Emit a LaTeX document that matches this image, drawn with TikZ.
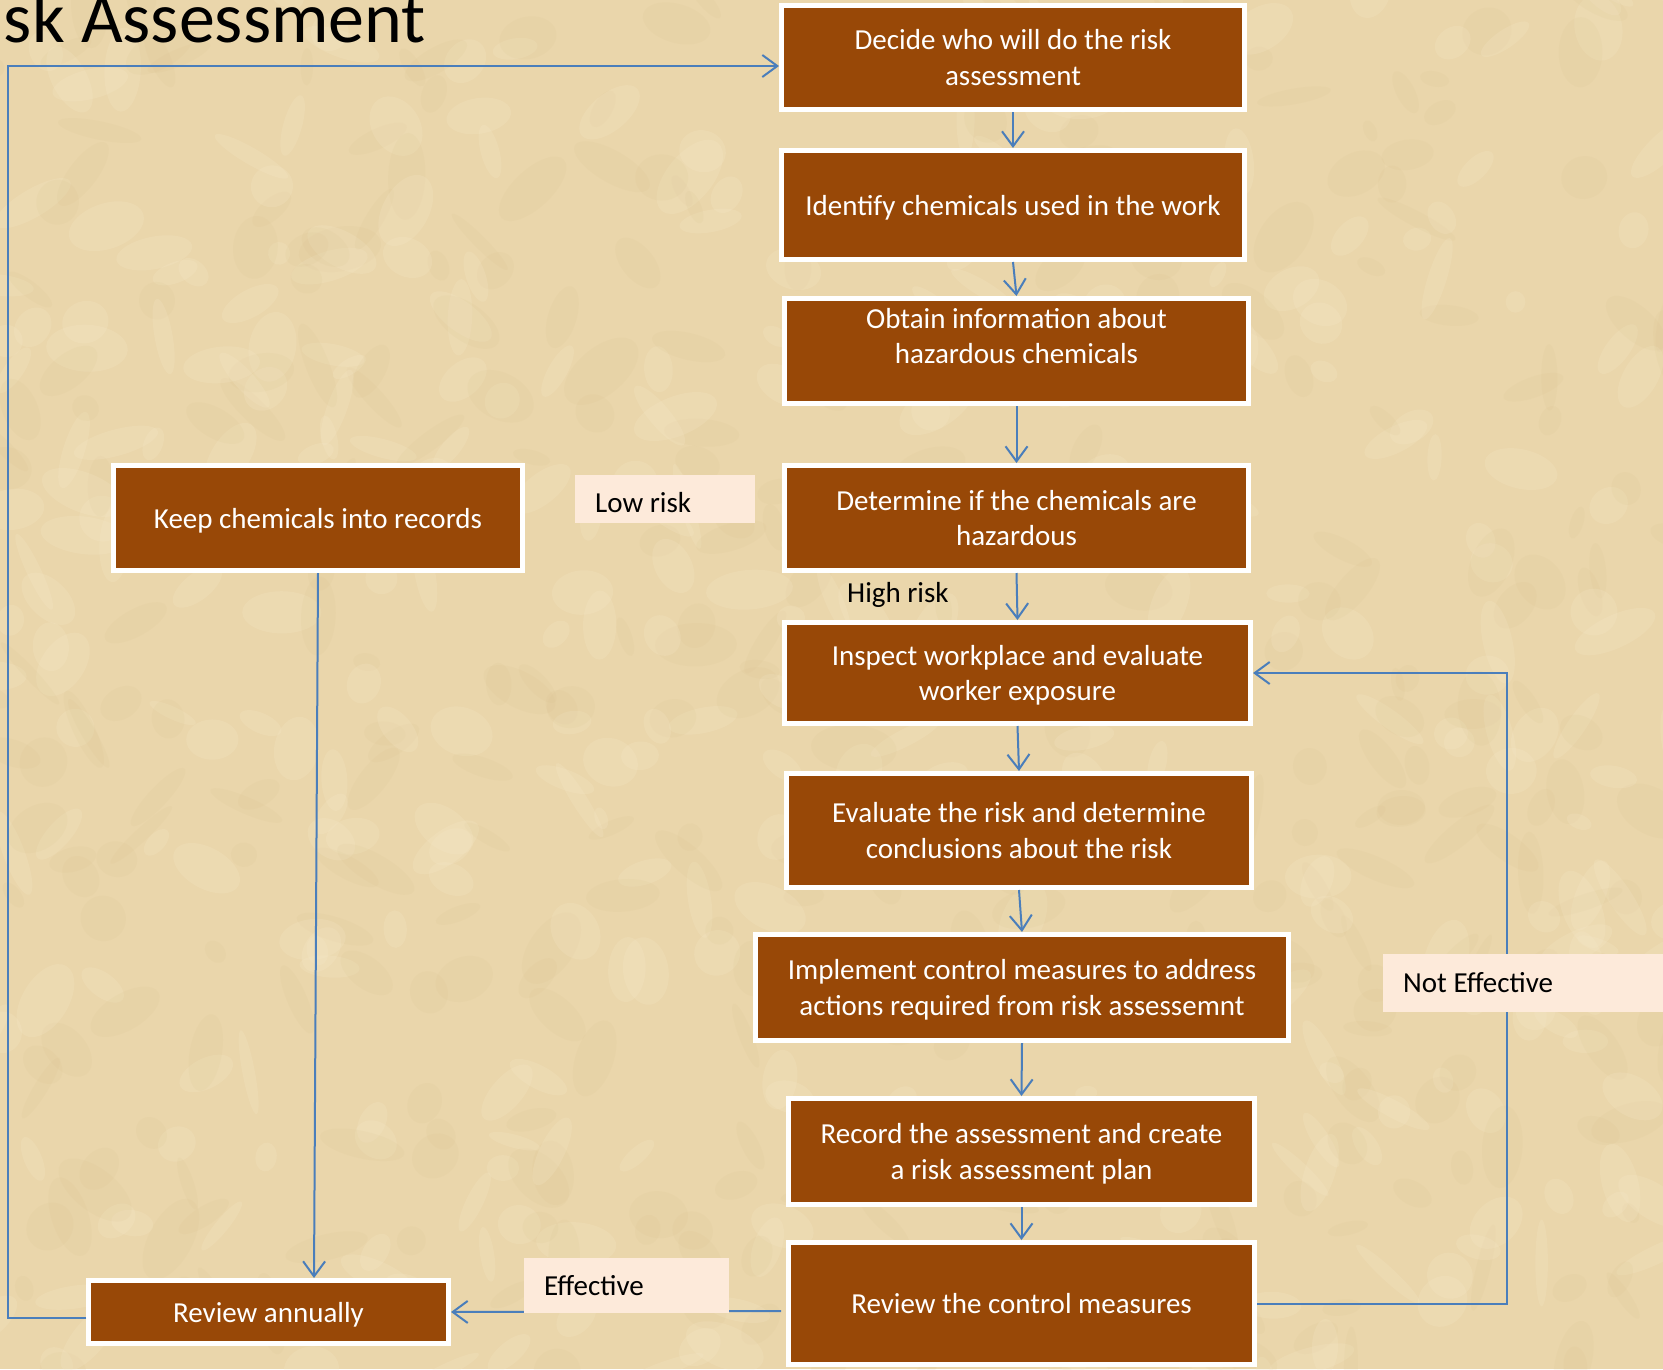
\documentclass[tikz,border=0pt]{standalone}
\usepackage{fontspec}
\setmainfont{Carlito}
\usetikzlibrary{arrows.meta,calc}
\definecolor{boxbrown}{HTML}{984807}
\definecolor{lblpeach}{HTML}{FDEADA}
\definecolor{linkblue}{HTML}{4A7EBB}
\definecolor{paper}{HTML}{EAD6AB}
\definecolor{paperlight}{HTML}{F7EACB}
\definecolor{paperdark}{HTML}{D2B983}
\newcommand{\nodesc}[1]{\raisebox{0pt}[\height][0pt]{#1}}
\tikzset{
  stepbox/.style={rectangle, fill=boxbrown, draw=white, line width=5pt, inner sep=0pt,
    text=white, align=center, font=\fontsize{29}{35.5}\selectfont},
  boxtext/.style={inner sep=0pt, text=white, align=center, font=\fontsize{29}{35.5}\selectfont},
  lbl/.style={rectangle, fill=lblpeach, inner xsep=20pt, inner ysep=0pt, text=black,
    anchor=north west, align=flush left, font=\fontsize{29}{35.5}\selectfont,
    text height=18.7pt, text depth=0pt},
  plaintext/.style={inner sep=0pt, text=black, font=\fontsize{29}{35.5}\selectfont},
  link/.style={draw=linkblue, line width=2pt,
    -{Straight Barb[length=15pt,width=22pt,line width=2pt]}},
  plainlink/.style={draw=linkblue, line width=2pt}
}
\begin{document}
\begin{tikzpicture}[x=1pt,y=-1pt]
% background
\fill[paper] (0,0) rectangle (1663,1369);
\useasboundingbox (0,0) rectangle (1663,1369);
\begin{scope}
\clip (0,0) rectangle (1663,1369);
\pgfmathsetseed{12}
\foreach \i in {1,...,700}{
  \pgfmathsetmacro{\px}{rnd*1700-20}
  \pgfmathsetmacro{\py}{rnd*1400-15}
  \pgfmathsetmacro{\rx}{10+rnd*35}
  \pgfmathsetmacro{\ry}{6+rnd*18}
  \pgfmathsetmacro{\ang}{rnd*180}
  \ifodd\i
    \fill[paperlight, opacity=0.2, rotate around={\ang:(\px,\py)}] (\px,\py) ellipse [x radius=\rx, y radius=\ry];
  \else
    \fill[paperdark, opacity=0.09, rotate around={\ang:(\px,\py)}] (\px,\py) ellipse [x radius=\rx, y radius=\ry];
  \fi
}
\end{scope}

% title (cut off at the left)
\node[inner sep=0pt, anchor=base east, text=black, font=\fontsize{72}{80}\selectfont] (title) at (426,42) {sk Assessment};

% step boxes
\node[stepbox, minimum width=463pt, minimum height=104pt] (dec) at (1013,57.5) {Decide who will do the risk\\assessment};
\node[stepbox, minimum width=463pt, minimum height=109pt] (iden) at (1013,205) {\nodesc{Identify chemicals used in the work}};
\node[stepbox, minimum width=464pt, minimum height=105pt] (obt) at (1016.5,351) {};
\node[boxtext] (obtt) at (1016.5,336) {Obtain information about\\hazardous chemicals};
\node[stepbox, minimum width=464pt, minimum height=105pt] (det) at (1016.5,518) {Determine if the chemicals are\\hazardous};
\node[stepbox, minimum width=466pt, minimum height=101pt] (insp) at (1017.5,673) {Inspect workplace and evaluate\\\nodesc{worker exposure}};
\node[stepbox, minimum width=465pt, minimum height=114pt] (eval) at (1019,830.5) {Evaluate the risk and determine\\conclusions about the risk};
\node[stepbox, minimum width=533pt, minimum height=106pt] (impl) at (1022,987.5) {Implement control measures to address\\\nodesc{actions required from risk assessemnt}};
\node[stepbox, minimum width=466pt, minimum height=106pt] (rec) at (1021.5,1151.5) {Record the assessment and create\\\nodesc{a risk assessment plan}};
\node[stepbox, minimum width=466pt, minimum height=122pt] (rc) at (1021.5,1303.5) {Review the control measures};
\node[stepbox, minimum width=409pt, minimum height=105pt] (keep) at (318,518) {\nodesc{Keep chemicals into records}};
\node[stepbox, minimum width=360pt, minimum height=63pt] (ra) at (268.5,1312) {\nodesc{Review annually}};

% connectors
\draw[link] (dec.south) -- (iden.north);
\draw[link] (iden.south) -- (obt.north);
\draw[link] (obt.south) -- (det.north);
\draw[link] (det.south) -- (insp.north);
\draw[link] (insp.south) -- (eval.north);
\draw[link] (eval.south) -- (impl.north);
\draw[link] (impl.south) -- (rec.north);
\draw[link] (rec.south) -- (rc.north);
\draw[link] ($(rc.west)+(-5,7.5)$) -- (ra.east);
\draw[link] (rc.east) -- ++(250,0) |- (insp.east);
\draw[link] ($(ra.west)+(0,6)$) -- ++(-78,0) |- ($(dec.west)+(0,8.5)$);
\draw[link] (keep.south) -- ($(ra.north)+(45.5,0)$);

% labels
\node[lbl, text width=140pt, minimum height=48pt, text height=26pt] (low) at (575,475) {Low risk};
\node[lbl, text width=165pt, minimum height=55pt] (eff) at (524,1258) {Effective};
\node[lbl, text width=260pt, minimum height=58pt] (neff) at (1383,954) {Not Effective};
\node[plaintext, anchor=base west] (high) at (847,602) {High risk};
\end{tikzpicture}
\end{document}
